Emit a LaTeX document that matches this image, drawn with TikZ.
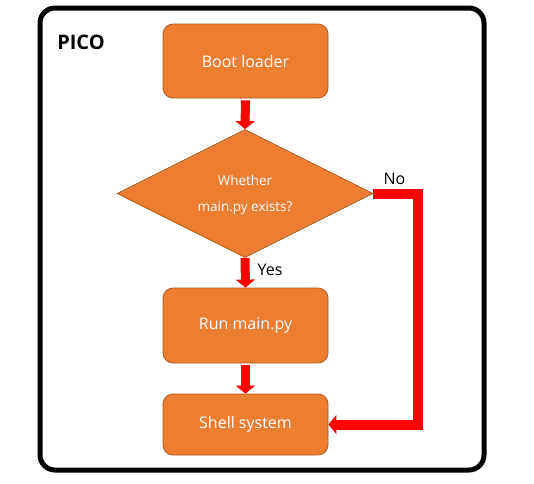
\documentclass[tikz,border=0pt]{standalone}
\usepackage{fontspec}
\setmainfont{Open Sans}
\usetikzlibrary{shapes.geometric,arrows.meta}
\definecolor{boxorange}{HTML}{ED7D31}
\definecolor{boxedge}{HTML}{AE5A21}
\definecolor{flowred}{HTML}{FF0000}
\tikzset{
  stepbox/.style={draw=boxedge, line width=0.8pt, fill=boxorange, rounded corners=10pt,
    minimum width=165pt, text=white, font=\fontsize{16}{19}\selectfont, inner sep=0pt},
  decbox/.style={diamond, draw=boxedge, line width=0.8pt, fill=boxorange,
    minimum width=256pt, minimum height=128pt, inner sep=0pt},
  flow/.style={draw=flowred, line width=9pt, -{Triangle[length=8pt,width=19pt]}},
  noflow/.style={draw=flowred, line width=10pt, line join=miter, -{Triangle[length=8pt,width=19pt]}},
  lbl/.style={font=\fontsize{16}{19}\selectfont, text=black, inner sep=0pt}
}
\begin{document}
\begin{tikzpicture}[x=1pt,y=-1pt]
\useasboundingbox (0,0) rectangle (534,483);
\fill[white] (0,0) rectangle (534,483);
\draw[line width=5pt, rounded corners=15pt] (40,8) rectangle (484,470);
\node[font=\bfseries\fontsize{20}{24}\selectfont, inner sep=0pt] (pico) at (81,42) {PICO};
\node[stepbox, minimum height=74pt] (boot) at (245.5,61) {Boot loader};
\node[decbox] (dec) at (245,193.5) {};
\node[text=white, align=center, font=\fontsize{13.5}{26}\selectfont, inner sep=0pt] (dect) at (245,195) {Whether\\main.py exists?};
\node[stepbox, minimum height=75pt] (run) at (245.5,325.5) {Run main.py};
\node[stepbox, minimum height=61pt] (shell) at (245.5,424.5) {Shell system};
\coordinate (nocorner) at (418,424.5);
\draw[flow, shorten <=2pt] (boot.south) -- (dec.north);
\draw[flow] (dec.south) -- (run.north);
\draw[flow, shorten <=2pt] (run.south) -- (shell.north);
\draw[noflow] (dec.east) -- (dec.east -| nocorner) -- (nocorner) -- (shell.east);
\node[lbl] (yes) at (270,270) {Yes};
\node[lbl] (no) at (394.5,179) {No};
\end{tikzpicture}
\end{document}
